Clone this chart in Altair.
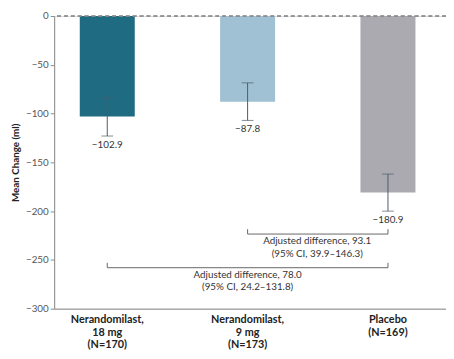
import altair as alt
import pandas as pd

# ---- data ----
groups = ["Nerandomilast,|18 mg|(N=170)", "Nerandomilast,|9 mg|(N=173)", "Placebo|(N=169)"]
means = [-102.9, -87.8, -180.9]
ci_high = [-84.0, -68.5, -162.0]
ci_low = [-123.0, -107.0, -200.0]
mean_labels = ["−102.9", "−87.8", "−180.9"]
bar_colors = ["#1f6b82", "#9fc1d3", "#abaab1"]

bracket_from = [groups[1], groups[0]]
bracket_to = [groups[2], groups[2]]
bracket_level = [-223.5, -258.0]
bracket_line1 = ["Adjusted difference, 93.1", "Adjusted difference, 78.0"]
bracket_line2 = ["(95% CI, 39.9–146.3)", "(95% CI, 24.2–131.8)"]

FONT = "Lato"

df = pd.DataFrame({"group": groups, "mean": means, "hi": ci_high, "lo": ci_low,
                   "label": mean_labels})
br = pd.DataFrame({"a": bracket_from, "b": bracket_to, "lvl": bracket_level,
                   "t1": bracket_line1, "t2": bracket_line2})
br["tip"] = br["lvl"] + 5
br["txt"] = [[a, b] for a, b in zip(bracket_line1, bracket_line2)]

xscale = alt.Scale(domain=groups, paddingInner=0.608, paddingOuter=0.2, align=0.456)
yscale = alt.Scale(domain=[-300, 0], nice=False)

x = alt.X("group:N", scale=xscale, sort=groups,
          axis=alt.Axis(title=None, labelAngle=0, ticks=False, domainColor="#8a8a8a",
                        labelExpr="split(datum.label, '|')", labelFont=FONT,
                        labelFontWeight="bold", labelFontSize=11, labelColor="#222222",
                        labelBaseline="top", labelPadding=5, labelLineHeight=13))
y = alt.Y("mean:Q", scale=yscale,
          axis=alt.Axis(title="Mean Change (ml)", values=list(range(-300, 1, 50)),
                        grid=False, domainColor="#8a8a8a", tickColor="#8a8a8a",
                        tickSize=4, labelFont=FONT, labelFontSize=10, labelColor="#555555",
                        labelPadding=2, titleFont=FONT, titleFontSize=10,
                        titleFontWeight="bold", titleColor="#222222", titlePadding=5))

base = alt.Chart(df)

bars = base.mark_bar(size=56).encode(
    x=x, y=y,
    color=alt.Color("group:N", scale=alt.Scale(domain=groups, range=bar_colors), legend=None),
)

zero = alt.Chart(df).mark_rule(color="#8a8a8a", strokeDash=[4, 3], strokeWidth=1).encode(
    y=alt.datum(0, scale=yscale)
)

err = base.mark_rule(color="#4d5b66", strokeWidth=1).encode(
    x=alt.X("group:N", scale=xscale, sort=groups), y=alt.Y("lo:Q", scale=yscale), y2="hi:Q")
cap_hi = base.mark_tick(color="#4d5b66", size=12, thickness=1, orient="horizontal").encode(
    x=alt.X("group:N", scale=xscale, sort=groups), y=alt.Y("hi:Q", scale=yscale))
cap_lo = base.mark_tick(color="#4d5b66", size=12, thickness=1, orient="horizontal").encode(
    x=alt.X("group:N", scale=xscale, sort=groups), y=alt.Y("lo:Q", scale=yscale))
vals = base.mark_text(font=FONT, fontSize=10, color="#333333", baseline="top", dy=4).encode(
    x=alt.X("group:N", scale=xscale, sort=groups), y=alt.Y("lo:Q", scale=yscale),
    text="label:N")

bb = alt.Chart(br)
bline = bb.mark_rule(color="#666666", strokeWidth=1).encode(
    x=alt.X("a:N", scale=xscale, sort=groups), x2="b:N", y=alt.Y("lvl:Q", scale=yscale))
btick_a = bb.mark_rule(color="#666666", strokeWidth=1).encode(
    x=alt.X("a:N", scale=xscale, sort=groups), y=alt.Y("lvl:Q", scale=yscale), y2="tip:Q")
btick_b = bb.mark_rule(color="#666666", strokeWidth=1).encode(
    x=alt.X("b:N", scale=xscale, sort=groups), y=alt.Y("lvl:Q", scale=yscale), y2="tip:Q")

btxt1 = alt.Chart(br.iloc[[0]]).mark_text(font=FONT, fontSize=10, color="#333333",
                                           baseline="top", dy=2, dx=-72, lineHeight=13).encode(
    x=alt.X("b:N", scale=xscale, sort=groups), y=alt.Y("lvl:Q", scale=yscale), text="txt")
btxt2 = alt.Chart(br.iloc[[1]]).mark_text(font=FONT, fontSize=10, color="#333333",
                                           baseline="top", dy=2, lineHeight=13).encode(
    x=alt.X("group2:N", scale=xscale, sort=groups), y=alt.Y("lvl:Q", scale=yscale), text="txt"
).transform_calculate(group2=f"'{groups[1]}'")

chart = alt.layer(bars, zero, err, cap_hi, cap_lo, vals, bline, btick_a, btick_b, btxt1, btxt2
).properties(
    width=399, height=298,
    autosize=alt.AutoSizeParams(type="none"),
    padding={"left": 47, "top": 5, "right": 0, "bottom": 45},
).configure_view(stroke=None).configure(background="white")

chart.save("out.html", embed_options={"renderer": "svg", "actions": False})
